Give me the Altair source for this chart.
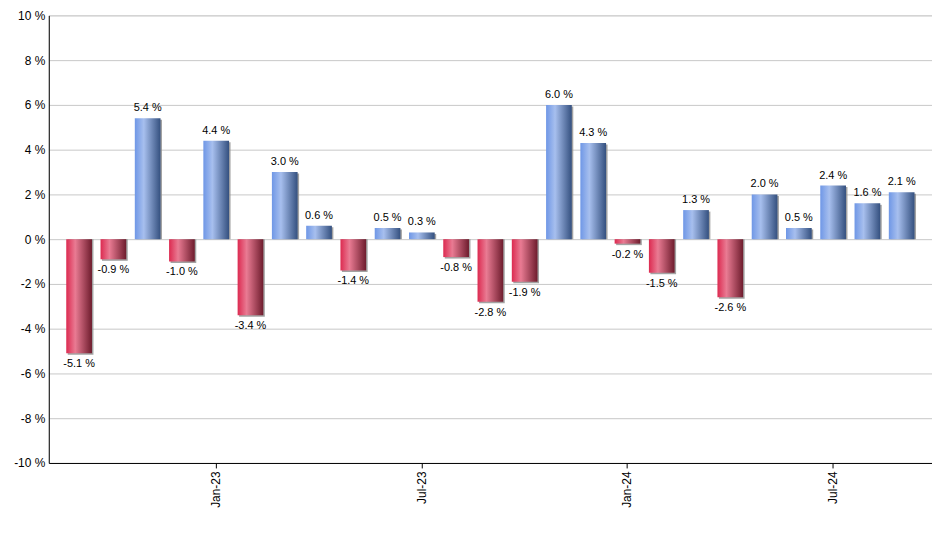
import altair as alt
import pandas as pd

months = ["Sep-22", "Oct-22", "Nov-22", "Dec-22", "Jan-23", "Feb-23", "Mar-23", "Apr-23",
          "May-23", "Jun-23", "Jul-23", "Aug-23", "Sep-23", "Oct-23", "Nov-23", "Dec-23",
          "Jan-24", "Feb-24", "Mar-24", "Apr-24", "May-24", "Jun-24", "Jul-24", "Aug-24", "Sep-24"]
values = [-5.1, -0.9, 5.4, -1.0, 4.4, -3.4, 3.0, 0.6, -1.4, 0.5, 0.3, -0.8, -2.8, -1.9,
          6.0, 4.3, -0.2, -1.5, 1.3, -2.6, 2.0, 0.5, 2.4, 1.6, 2.1]
tick_labels = ["Jan-23", "Jul-23", "Jan-24", "Jul-24"]
y_ticks = [-10, -8, -6, -4, -2, 0, 2, 4, 6, 8, 10]

df = pd.DataFrame({"month": months, "value": values})
df["label"] = df["value"].map(lambda v: f"{v:.1f} %")

FONT = "Liberation Sans"

x_enc = alt.X("month:N", sort=months,
              scale=alt.Scale(paddingInner=0.25, paddingOuter=0.51),
              axis=alt.Axis(values=tick_labels, labelAngle=-90, title=None, grid=False,
                            domainColor="black", tickColor="black", tickSize=5,
                            labelFont=FONT, labelFontSize=12, labelColor="black",
                            labelPadding=3))
y_scale = alt.Scale(domain=[-10, 10], nice=False)
y_enc = alt.Y("value:Q", scale=y_scale,
              axis=alt.Axis(values=y_ticks, labelExpr="datum.value + ' %'", title=None,
                            grid=True, gridColor="#c8c8c8", domainColor="black",
                            tickSize=0, labelPadding=4, labelFont=FONT, labelFontSize=12,
                            labelColor="black"))

blue_grad = alt.Gradient(gradient="linear", x1=0, x2=1, y1=0, y2=0, stops=[
    alt.GradientStop(color="#6f97e6", offset=0),
    alt.GradientStop(color="#a7bfee", offset=0.35),
    alt.GradientStop(color="#34507f", offset=1)])
red_grad = alt.Gradient(gradient="linear", x1=0, x2=1, y1=0, y2=0, stops=[
    alt.GradientStop(color="#dc2a50", offset=0),
    alt.GradientStop(color="#e97b93", offset=0.35),
    alt.GradientStop(color="#6e1c2d", offset=1)])

base = alt.Chart(df)

shadow = base.mark_bar(color="#8c8c8c", xOffset=1.5, yOffset=1.5, opacity=0.8).encode(
    x=x_enc, y=y_enc, y2=alt.datum(0))

pos = base.transform_filter("datum.value >= 0").mark_bar(color=blue_grad).encode(
    x=x_enc, y=y_enc, y2=alt.datum(0))
neg = base.transform_filter("datum.value < 0").mark_bar(color=red_grad).encode(
    x=x_enc, y=y_enc, y2=alt.datum(0))

pos_txt = base.transform_filter("datum.value >= 0").mark_text(
    font=FONT, fontSize=11, color="black", baseline="bottom", dy=-5).encode(
    x=alt.X("month:N", sort=months), y=alt.Y("value:Q", scale=y_scale), text="label:N")
neg_txt = base.transform_filter("datum.value < 0").mark_text(
    font=FONT, fontSize=11, color="black", baseline="top", dy=5).encode(
    x=alt.X("month:N", sort=months), y=alt.Y("value:Q", scale=y_scale), text="label:N")

chart = alt.layer(shadow, pos, neg, pos_txt, neg_txt).properties(
    width=888, height=450,
    autosize=alt.AutoSizeParams(type="none"),
    padding={"left": 41, "top": 6, "right": 0, "bottom": 70},
).configure_view(stroke=None).configure(background="white")

chart.save("out.html", embed_options={"renderer": "svg", "actions": False})
